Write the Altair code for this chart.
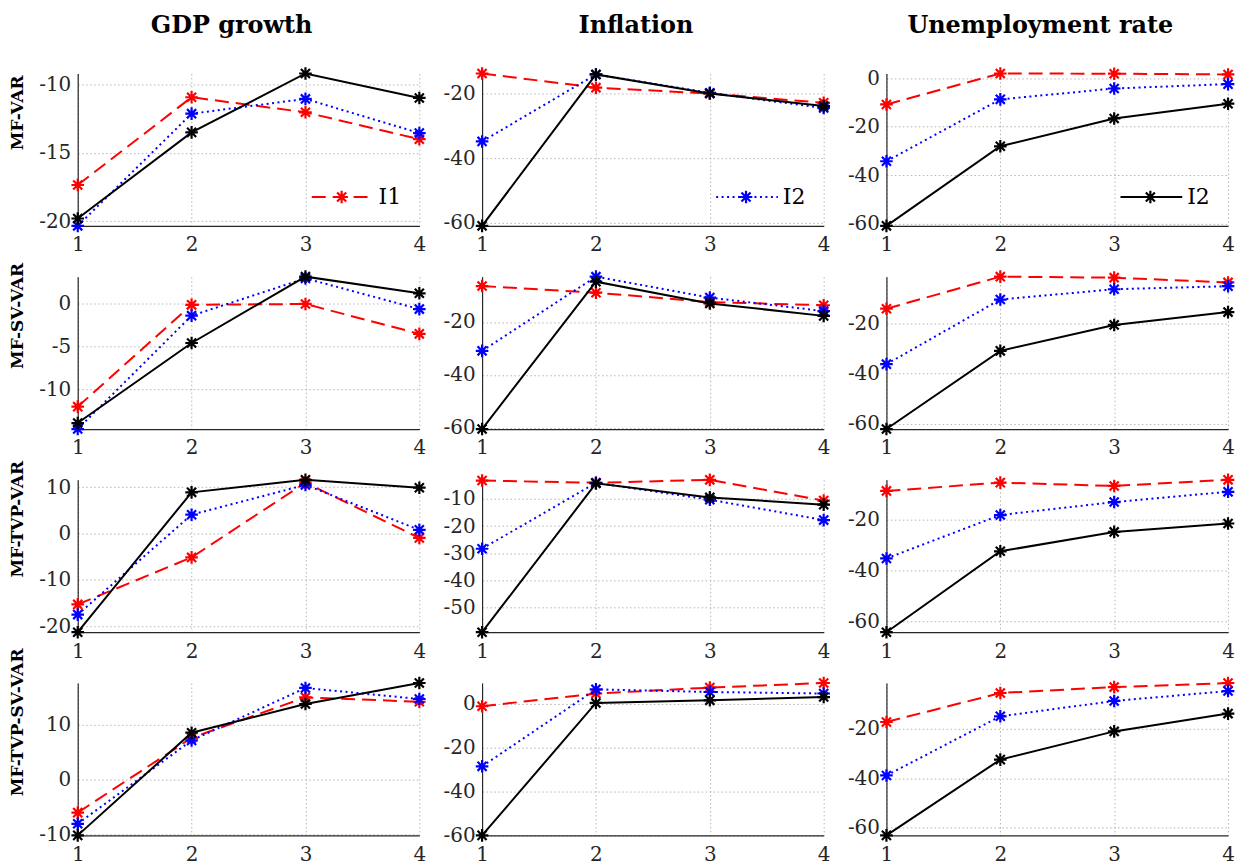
import altair as alt
import pandas as pd

# ---------------- data ----------------
horizons = [1, 2, 3, 4]
series_keys = ["I1", "I2", "I3"]
series_colors = ["#ff0000", "#0000ff", "#000000"]
series_dash = [[14, 7], [2, 3.5], None]

variables = ["GDP growth", "Inflation", "Unemployment rate"]
models = ["MF-VAR", "MF-SV-VAR", "MF-TVP-VAR", "MF-TVP-SV-VAR"]
legend_labels = ["I1", "I2", "I2"]

# MF-VAR
mfvar_gdp_i1 = [-17.35, -10.93, -12.03, -14.0]
mfvar_gdp_i2 = [-20.34, -12.13, -11.05, -13.55]
mfvar_gdp_i3 = [-19.8, -13.5, -9.19, -10.98]
mfvar_inf_i1 = [-13.8, -18.2, -20.0, -22.9]
mfvar_inf_i2 = [-34.85, -14.1, -19.8, -24.5]
mfvar_inf_i3 = [-61.0, -14.1, -20.0, -23.9]
mfvar_une_i1 = [-10.8, 2.0, 1.9, 1.6]
mfvar_une_i2 = [-34.3, -8.7, -4.2, -2.4]
mfvar_une_i3 = [-61.0, -28.1, -16.6, -10.5]
# MF-SV-VAR
mfsv_gdp_i1 = [-12.03, -0.1, 0.0, -3.5]
mfsv_gdp_i2 = [-14.65, -1.37, 3.0, -0.6]
mfsv_gdp_i3 = [-13.95, -4.57, 3.2, 1.25]
mfsv_inf_i1 = [-6.45, -8.96, -12.5, -13.7]
mfsv_inf_i2 = [-30.9, -2.9, -10.8, -15.9]
mfsv_inf_i3 = [-60.4, -4.8, -13.0, -17.7]
mfsv_une_i1 = [-14.25, -1.5, -1.9, -3.8]
mfsv_une_i2 = [-36.3, -10.6, -6.5, -5.3]
mfsv_une_i3 = [-62.1, -31.0, -20.7, -15.6]
# MF-TVP-VAR
mftvp_gdp_i1 = [-15.3, -5.15, 11.0, -0.95]
mftvp_gdp_i2 = [-17.5, 4.07, 10.5, 0.8]
mftvp_gdp_i3 = [-21.3, 8.9, 11.6, 9.9]
mftvp_inf_i1 = [-3.17, -4.0, -2.9, -10.6]
mftvp_inf_i2 = [-28.4, -4.0, -10.25, -17.8]
mftvp_inf_i3 = [-59.3, -4.2, -9.4, -12.1]
mftvp_une_i1 = [-8.85, -5.6, -6.9, -4.5]
mftvp_une_i2 = [-35.3, -18.3, -13.2, -9.2]
mftvp_une_i3 = [-64.2, -32.5, -24.9, -21.6]
# MF-TVP-SV-VAR
mftvpsv_gdp_i1 = [-5.98, 7.56, 14.9, 14.1]
mftvpsv_gdp_i2 = [-8.0, 7.1, 16.6, 14.6]
mftvpsv_gdp_i3 = [-10.1, 8.5, 13.7, 17.5]
mftvpsv_inf_i1 = [-1.2, 4.6, 7.3, 9.4]
mftvpsv_inf_i2 = [-28.6, 6.5, 5.3, 4.6]
mftvpsv_inf_i3 = [-60.1, 0.3, 1.5, 3.0]
mftvpsv_une_i1 = [-17.3, -5.6, -3.2, -1.55]
mftvpsv_une_i2 = [-38.9, -15.0, -8.8, -4.8]
mftvpsv_une_i3 = [-63.1, -32.5, -21.1, -13.9]

panel_series = [
    [[mfvar_gdp_i1, mfvar_gdp_i2, mfvar_gdp_i3],
     [mfvar_inf_i1, mfvar_inf_i2, mfvar_inf_i3],
     [mfvar_une_i1, mfvar_une_i2, mfvar_une_i3]],
    [[mfsv_gdp_i1, mfsv_gdp_i2, mfsv_gdp_i3],
     [mfsv_inf_i1, mfsv_inf_i2, mfsv_inf_i3],
     [mfsv_une_i1, mfsv_une_i2, mfsv_une_i3]],
    [[mftvp_gdp_i1, mftvp_gdp_i2, mftvp_gdp_i3],
     [mftvp_inf_i1, mftvp_inf_i2, mftvp_inf_i3],
     [mftvp_une_i1, mftvp_une_i2, mftvp_une_i3]],
    [[mftvpsv_gdp_i1, mftvpsv_gdp_i2, mftvpsv_gdp_i3],
     [mftvpsv_inf_i1, mftvpsv_inf_i2, mftvpsv_inf_i3],
     [mftvpsv_une_i1, mftvpsv_une_i2, mftvpsv_une_i3]],
]

gdp_ticks = [[-20, -15, -10], [-10, -5, 0], [-20, -10, 0, 10], [-10, 0, 10]]
inf_ticks = [[-60, -40, -20], [-60, -40, -20], [-50, -40, -30, -20, -10], [-60, -40, -20, 0]]
une_ticks = [[-60, -40, -20, 0], [-60, -40, -20], [-60, -40, -20], [-60, -40, -20]]
panel_ticks = [[gdp_ticks[r], inf_ticks[r], une_ticks[r]] for r in range(4)]

# ---------------- styling ----------------
FONT = "DejaVu Serif"
W, H = 343, 153
ASTERISK = ("M-1,0L1,0M0,-1L0,1M-0.72,-0.72L0.72,0.72M-0.72,0.72L0.72,-0.72")
LABEL_EXPR = "datum.value < 0 ? '-' + format(abs(datum.value), 'd') : format(datum.value, 'd')"
MSIZE, MSW = 160, 2.2


def make_panel(r, c):
    y_axis_kw = dict(values=panel_ticks[r][c], labelExpr=LABEL_EXPR, labelFlush=False)
    if c == 0:
        y_axis_kw.update(title=models[r], titleFont=FONT, titleFontWeight="bold", titleFontSize=17,
                         titleX=-60, titleY=39, titleBaseline="middle", titleColor="#000000")
    else:
        y_axis_kw["title"] = ""
    x_enc = alt.X("h:Q", scale=alt.Scale(domain=[1, 4], nice=False),
                  axis=alt.Axis(values=horizons, format="d", title="", labelFlush=False,
                                labelPadding=9))
    y_enc = alt.Y("v:Q", scale=alt.Scale(zero=False, nice=False), axis=alt.Axis(**y_axis_kw))

    layers = []
    for i, k in enumerate(series_keys):
        d = pd.DataFrame({"h": horizons, "v": panel_series[r][c][i], "s": k})
        line_kw = dict(color=series_colors[i], strokeWidth=2)
        if series_dash[i] is not None:
            line_kw["strokeDash"] = series_dash[i]
        layers.append(alt.Chart(d).mark_line(**line_kw).encode(x=x_enc, y=y_enc))
        layers.append(
            alt.Chart(d).mark_point(shape=ASTERISK, filled=False, size=MSIZE, strokeWidth=MSW,
                                    color=series_colors[i], opacity=1)
            .encode(x=x_enc, y=y_enc)
        )
    if r == 0:
        li = c
        ld = pd.DataFrame({"label": [legend_labels[c]]})
        rule_kw = dict(color=series_colors[li], strokeWidth=2)
        if series_dash[li] is not None:
            rule_kw["strokeDash"] = series_dash[li]
        layers.append(alt.Chart(ld).mark_rule(**rule_kw).encode(
            x=alt.value(235), x2=alt.value(297), y=alt.value(124)))
        layers.append(alt.Chart(ld).mark_point(shape=ASTERISK, filled=False, size=MSIZE,
                                               strokeWidth=MSW, color=series_colors[li], opacity=1)
                      .encode(x=alt.value(265), y=alt.value(124)))
        layers.append(alt.Chart(ld).mark_text(font=FONT, fontSize=22, align="left",
                                              baseline="middle", color="#000000")
                      .encode(x=alt.value(302), y=alt.value(124), text="label:N"))
    props = dict(width=W, height=H)
    if r == 0:
        props["title"] = alt.TitleParams(variables[c], font=FONT, fontSize=24, fontWeight="bold",
                                         anchor="middle", dx=-17, offset=25, color="#000000")
    return alt.layer(*layers).properties(**props)


panels = [make_panel(r, c) for r in range(4) for c in range(3)]

chart = (
    alt.concat(*panels, columns=3, spacing={"row": 51, "column": 63}, bounds="flush")
    .configure(background="#ffffff", padding={"left": 1, "top": 4, "right": 0, "bottom": 0})
    .configure_view(strokeWidth=0)
    .configure_axis(
        domainColor="#262626", domainWidth=1.2, grid=True, gridColor="#b4b4b4",
        gridDash=[1.5, 2.5], gridWidth=1, ticks=False, labelFont=FONT, labelFontSize=20,
        labelColor="#262626", labelPadding=7,
    )
)

chart.save("out.html", embed_options={"renderer": "svg", "actions": False})
